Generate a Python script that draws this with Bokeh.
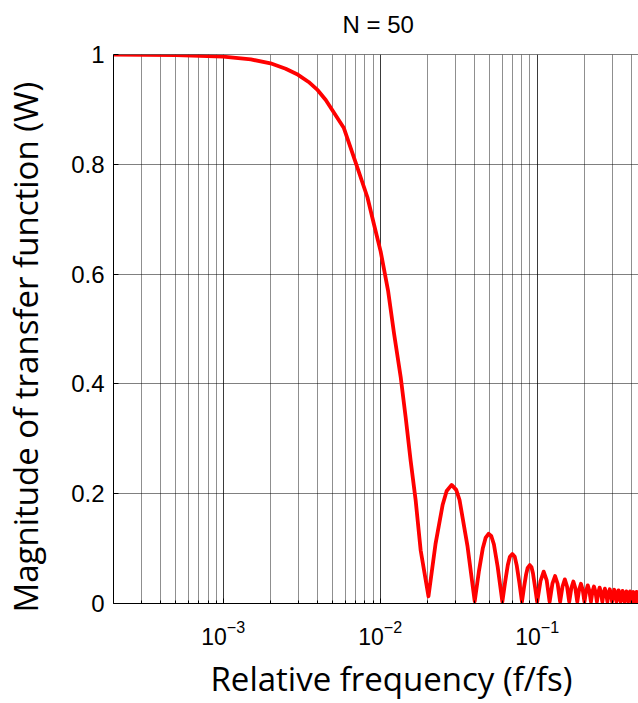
from bokeh.plotting import figure
from bokeh.models import FixedTicker, Span, ColumnDataSource, Title
from bokeh.embed import file_html
from bokeh.resources import INLINE

# ---- data ----
main_freq = [0.0002, 0.0005, 0.001, 0.0015, 0.002, 0.0025, 0.003, 0.0035, 0.004,
             0.0045, 0.00587, 0.00698, 0.00829, 0.00914, 0.01007, 0.01122, 0.01225,
             0.01351, 0.01453, 0.01563, 0.01682, 0.01811, 0.0203]
main_mag = [1.0, 0.999, 0.996, 0.991, 0.984, 0.974, 0.963, 0.950, 0.935,
            0.917, 0.866, 0.803, 0.740, 0.690, 0.641, 0.570, 0.492,
            0.412, 0.339, 0.260, 0.188, 0.0965, 0.013]

side_freq = [0.0225, 0.025, 0.0265, 0.0285, 0.0305, 0.032, 0.036, 0.040,
             0.0425, 0.045, 0.047, 0.049, 0.051, 0.053, 0.056, 0.060,
             0.0625, 0.065, 0.067, 0.0695, 0.072, 0.074, 0.077, 0.080,
             0.0825, 0.085, 0.087, 0.0897, 0.092, 0.094, 0.097, 0.100,
             0.105, 0.110, 0.115, 0.120,
             0.125, 0.130, 0.135, 0.140,
             0.145, 0.150, 0.155, 0.160,
             0.165, 0.170, 0.175, 0.180,
             0.185, 0.190, 0.195, 0.200,
             0.205, 0.210, 0.215, 0.220,
             0.225, 0.230, 0.235, 0.240,
             0.245, 0.250, 0.255, 0.260,
             0.265, 0.270, 0.275, 0.280,
             0.285, 0.290, 0.295, 0.300,
             0.305, 0.310, 0.315, 0.320,
             0.325, 0.330, 0.335, 0.340,
             0.345, 0.350, 0.355, 0.360,
             0.365, 0.370, 0.375, 0.380,
             0.385, 0.390, 0.395, 0.400,
             0.405, 0.410, 0.415, 0.420,
             0.425, 0.430, 0.435, 0.440,
             0.445, 0.450, 0.455, 0.460,
             0.465, 0.470, 0.475, 0.480,
             0.485, 0.490, 0.495, 0.500]
side_mag = [0.108, 0.180, 0.205, 0.216, 0.207, 0.189, 0.104, 0.004,
            0.058, 0.100, 0.120, 0.127, 0.123, 0.108, 0.067, 0.003,
            0.039, 0.070, 0.085, 0.090, 0.085, 0.070, 0.038, 0.003,
            0.030, 0.053, 0.065, 0.070, 0.066, 0.055, 0.029, 0.003,
            0.041, 0.058, 0.042, 0.003,
            0.036, 0.050, 0.036, 0.003,
            0.031, 0.044, 0.031, 0.003,
            0.028, 0.040, 0.028, 0.003,
            0.025, 0.036, 0.025, 0.003,
            0.023, 0.033, 0.023, 0.003,
            0.022, 0.031, 0.022, 0.003,
            0.020, 0.029, 0.020, 0.003,
            0.019, 0.027, 0.019, 0.003,
            0.018, 0.026, 0.018, 0.003,
            0.018, 0.025, 0.017, 0.003,
            0.017, 0.024, 0.017, 0.003,
            0.016, 0.023, 0.016, 0.003,
            0.016, 0.022, 0.015, 0.003,
            0.015, 0.022, 0.015, 0.003,
            0.015, 0.021, 0.015, 0.003,
            0.015, 0.021, 0.014, 0.003,
            0.014, 0.020, 0.014, 0.003,
            0.014, 0.020, 0.014, 0.003,
            0.014, 0.020, 0.014, 0.002]

x_major_ticks = [1e-3, 1e-2, 1e-1]
x_minor_ticks = [2e-4, 3e-4, 4e-4, 5e-4, 6e-4, 7e-4, 8e-4, 9e-4,
                 2e-3, 3e-3, 4e-3, 5e-3, 6e-3, 7e-3, 8e-3, 9e-3,
                 2e-2, 3e-2, 4e-2, 5e-2, 6e-2, 7e-2, 8e-2, 9e-2,
                 2e-1, 3e-1, 4e-1, 5e-1]
y_ticks = [0, 0.2, 0.4, 0.6, 0.8, 1]
y_tick_labels = ["0", "0.2", "0.4", "0.6", "0.8", "1"]

title_text = "N = 50"
x_label = "Relative frequency (f/fs)"
y_label = "Magnitude of transfer function (W)"

p = figure(width=638, height=703, x_axis_type="log",
           x_range=(2e-4, 0.442), y_range=(0, 1),
           output_backend="svg", toolbar_location=None,
           min_border_left=113, min_border_right=0,
           min_border_top=54, min_border_bottom=100)

p.background_fill_color = "white"
p.border_fill_color = "white"
p.outline_line_color = None

xticker = FixedTicker(ticks=x_major_ticks, minor_ticks=x_minor_ticks)
p.xaxis.ticker = xticker
p.yaxis.ticker = FixedTicker(ticks=y_ticks)
p.yaxis.major_label_overrides = dict(zip(y_ticks, y_tick_labels))

for ax in (p.xaxis[0], p.yaxis[0]):
    ax.axis_line_color = "black"
    ax.axis_line_width = 1
    ax.major_tick_in = 5
    ax.major_tick_out = 0
    ax.minor_tick_in = 3
    ax.minor_tick_out = 0
    ax.major_tick_line_color = "black"
    ax.minor_tick_line_color = "black"
    ax.major_label_text_font = "Liberation Sans"
    ax.major_label_text_color = "black"

p.xaxis.major_label_text_font_size = "23px"
p.yaxis.major_label_text_font_size = "24px"
p.yaxis.minor_tick_line_color = None
p.xaxis.major_label_standoff = 16
p.yaxis.major_label_standoff = 9

# spacing panels (blank) and titles, stacked outward from the frame
def spacer(gap):
    return Title(text=" ", text_font_size="1px", standoff=gap)

p.add_layout(spacer(14), "above")
p.add_layout(Title(text=title_text, align="left", offset=229, standoff=0,
                   text_font="Liberation Sans", text_font_size="24px",
                   text_font_style="normal", text_color="black"), "above")

label_style = dict(text_font="Open Sans", text_font_size="33px",
                   text_font_style="normal", text_color="black", align="left")
p.add_layout(spacer(3), "below")
p.add_layout(Title(text=x_label, offset=97, standoff=0, **label_style), "below")
p.add_layout(spacer(18), "left")
p.add_layout(Title(text=y_label, offset=-9, standoff=0, **label_style), "left")

p.xgrid.ticker = xticker
p.xgrid.grid_line_color = "#3a3a3a"
p.xgrid.grid_line_width = 1
p.xgrid.minor_grid_line_color = "#8f8f8f"
p.xgrid.minor_grid_line_width = 1

p.ygrid.ticker = FixedTicker(ticks=[0.2, 0.4, 0.6, 0.8])
p.ygrid.grid_line_color = "black"
p.ygrid.grid_line_width = 1
p.ygrid.grid_line_dash = "1 1"

p.add_layout(Span(location=1, dimension="width", line_color="black", line_width=1))

src = ColumnDataSource(dict(f=main_freq + side_freq, m=main_mag + side_mag))
p.line("f", "m", source=src, line_color="#ff0000", line_width=3.8,
       line_join="round", line_cap="round")

open("out.html", "w").write(file_html(p, INLINE))
